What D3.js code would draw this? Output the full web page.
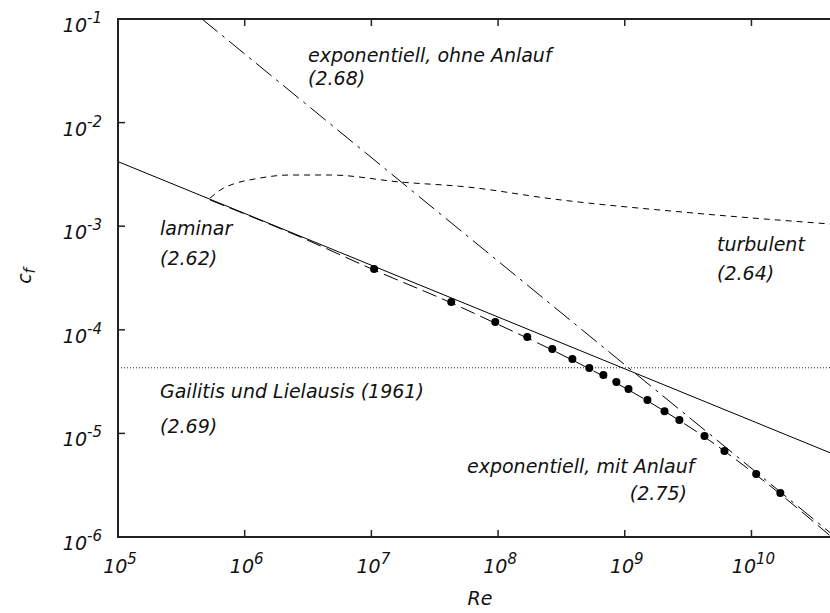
<!DOCTYPE html>
<html>
<head>
<meta charset="utf-8">
<script src="https://cdn.jsdelivr.net/npm/d3@7"></script>
<style>
  body { margin: 0; background: #fff; }
  text { font-family: "DejaVu Sans", sans-serif; font-style: italic; fill: #111; }
</style>
</head>
<body>
<svg id="chart" width="830" height="613"></svg>
<script>
// axis ticks
var reTicks = [1e5, 1e6, 1e7, 1e8, 1e9, 1e10]
var cfTicks = [1e-1, 1e-2, 1e-3, 1e-4, 1e-5, 1e-6]

// laminar (2.62), straight line in log-log
var laminarRe = [1e5, 5e10]
var laminarCf = [4.2e-3, 5.94e-6]

// exponentiell, ohne Anlauf (2.68)
var expOhneRe = [4.6e5, 5e10]
var expOhneCf = [0.1, 9.2e-7]

// turbulent (2.64)
var turbRe = [5.33e5, 6.40e5, 8.10e5, 1.21e6, 2.28e6, 4.73e6, 1.69e7, 5.71e7, 2.73e8, 3.48e9, 4.21e10]
var turbCf = [1.87e-3, 2.23e-3, 2.55e-3, 2.86e-3, 3.12e-3, 3.12e-3, 2.67e-3, 2.39e-3, 1.83e-3, 1.34e-3, 1.05e-3]

// exponentiell, mit Anlauf (2.75)
var expMitRe = [5.33e5, 2.74e6, 1.05e7, 4.27e7, 9.5e7, 2.68e8, 1.51e9, 4.26e9, 1.09e10, 4.21e10]
var expMitCf = [1.79e-3, 7.87e-4, 3.78e-4, 1.82e-4, 1.16e-4, 6.38e-5, 2.06e-5, 9.23e-6, 3.97e-6, 1.02e-6]

// Gailitis und Lielausis (1961), (2.69)
var gailitisCf = 4.3e-5

// numerical points
var pointRe = [1.05e7, 4.27e7, 9.5e7, 1.70e8, 2.68e8, 3.86e8, 5.25e8, 6.78e8, 8.59e8, 1.07e9, 1.51e9, 2.06e9, 2.70e9, 4.26e9, 6.12e9, 1.09e10, 1.69e10]
var pointCf = [3.86e-4, 1.85e-4, 1.19e-4, 8.53e-5, 6.53e-5, 5.23e-5, 4.28e-5, 3.66e-5, 3.13e-5, 2.68e-5, 2.10e-5, 1.64e-5, 1.35e-5, 9.44e-6, 6.76e-6, 4.06e-6, 2.66e-6]

var mLeft = 118, mTop = 19, mBottom = 537, mRight = 840

var x = d3.scaleLog().domain([1e5, 5e10]).range([mLeft, mRight])
var y = d3.scaleLog().domain([1e-6, 1e-1]).range([mBottom, mTop])

var svg = d3.select("#chart")

svg.append("clipPath").attr("id", "clip")
  .append("rect").attr("x", mLeft).attr("y", mTop)
  .attr("width", mRight - mLeft).attr("height", mBottom - mTop)

var plot = svg.append("g").attr("clip-path", "url(#clip)")

function zip(a, b) { return a.map(function(v, i){ return [v, b[i]] }) }

var line = d3.line().x(function(d){ return x(d[0]) }).y(function(d){ return y(d[1]) })
var curve = d3.line().curve(d3.curveMonotoneX).x(function(d){ return x(d[0]) }).y(function(d){ return y(d[1]) })

// Gailitis dotted
plot.append("path")
  .attr("d", line([[1e5, gailitisCf], [5e10, gailitisCf]]))
  .attr("fill", "none").attr("stroke", "#222").attr("stroke-width", 1)
  .attr("stroke-dasharray", "1,2")

// laminar solid
plot.append("path")
  .attr("d", line(zip(laminarRe, laminarCf)))
  .attr("fill", "none").attr("stroke", "#000").attr("stroke-width", 1)

// turbulent short dashes
plot.append("path")
  .attr("d", curve(zip(turbRe, turbCf)))
  .attr("fill", "none").attr("stroke", "#000").attr("stroke-width", 1)
  .attr("stroke-dasharray", "6,5")

// ohne Anlauf dash-dot
plot.append("path")
  .attr("d", line(zip(expOhneRe, expOhneCf)))
  .attr("fill", "none").attr("stroke", "#000").attr("stroke-width", 1)
  .attr("stroke-dasharray", "20,6,3,6")

// mit Anlauf long dashes
plot.append("path")
  .attr("d", curve(zip(expMitRe, expMitCf)))
  .attr("fill", "none").attr("stroke", "#000").attr("stroke-width", 1)
  .attr("stroke-dasharray", "15,6")

plot.selectAll("circle")
  .data(zip(pointRe, pointCf))
  .enter()
  .append("circle")
  .attr("cx", function(d){ return x(d[0]) })
  .attr("cy", function(d){ return y(d[1]) })
  .attr("r", 4)
  .attr("fill", "#000")

// frame
svg.append("path")
  .attr("d", "M" + mRight + "," + mTop + "H" + mLeft + "V" + mBottom + "H" + mRight)
  .attr("fill", "none").attr("stroke", "#222").attr("stroke-width", 2)

// ticks (inward, bottom and top)
var xt = svg.append("g")
xt.selectAll("line.b").data(reTicks).enter().append("line")
  .attr("x1", x).attr("x2", x).attr("y1", mBottom).attr("y2", mBottom - 7)
  .attr("stroke", "#222").attr("stroke-width", 1.5)
xt.selectAll("line.t").data(reTicks.slice(1)).enter().append("line")
  .attr("x1", x).attr("x2", x).attr("y1", mTop).attr("y2", mTop + 7)
  .attr("stroke", "#222").attr("stroke-width", 1.5)
svg.append("g").selectAll("line").data(cfTicks).enter().append("line")
  .attr("x1", mLeft).attr("x2", mLeft + 7).attr("y1", y).attr("y2", y)
  .attr("stroke", "#222").attr("stroke-width", 1.5)

// tick labels
var xl = svg.append("g").selectAll("text").data(reTicks).enter().append("text")
  .attr("x", function(d){ return x(d) + 2 }).attr("y", 573)
  .attr("text-anchor", "middle").style("font-size", "19px")
xl.append("tspan").text("10")
xl.append("tspan").attr("dy", -9).style("font-size", "15px")
  .text(function(d){ return Math.round(Math.log10(d)) })

var yl = svg.append("g").selectAll("text").data(cfTicks).enter().append("text")
  .attr("x", 102).attr("y", function(d){ return y(d) + 13 })
  .attr("text-anchor", "end").style("font-size", "19px")
yl.append("tspan").text("10")
yl.append("tspan").attr("dy", -9).style("font-size", "15px")
  .text(function(d){ return "-" + Math.abs(Math.round(Math.log10(d))) })

// axis titles
svg.append("text").attr("x", 480).attr("y", 605)
  .attr("text-anchor", "middle").style("font-size", "19px").text("Re")
var yt = svg.append("text").attr("transform", "translate(31,276) rotate(-90)")
  .attr("text-anchor", "middle").style("font-size", "19px")
yt.append("tspan").text("c")
yt.append("tspan").attr("dy", 4).style("font-size", "15px").text("f")

// curve labels
var labels = [
  ["exponentiell, ohne Anlauf", 308, 62, "start"],
  ["(2.68)", 308, 85, "start"],
  ["laminar", 160, 235, "start"],
  ["(2.62)", 160, 265, "start"],
  ["turbulent", 717, 251, "start"],
  ["(2.64)", 717, 280, "start"],
  ["Gailitis und Lielausis (1961)", 160, 398, "start"],
  ["(2.69)", 160, 433, "start"],
  ["exponentiell, mit Anlauf", 467, 473, "start"],
  ["(2.75)", 687, 500, "end"]
]
svg.append("g").selectAll("text").data(labels).enter().append("text")
  .attr("x", function(d){ return d[1] }).attr("y", function(d){ return d[2] })
  .attr("text-anchor", function(d){ return d[3] })
  .style("font-size", "19px")
  .text(function(d){ return d[0] })
</script>
</body>
</html>
